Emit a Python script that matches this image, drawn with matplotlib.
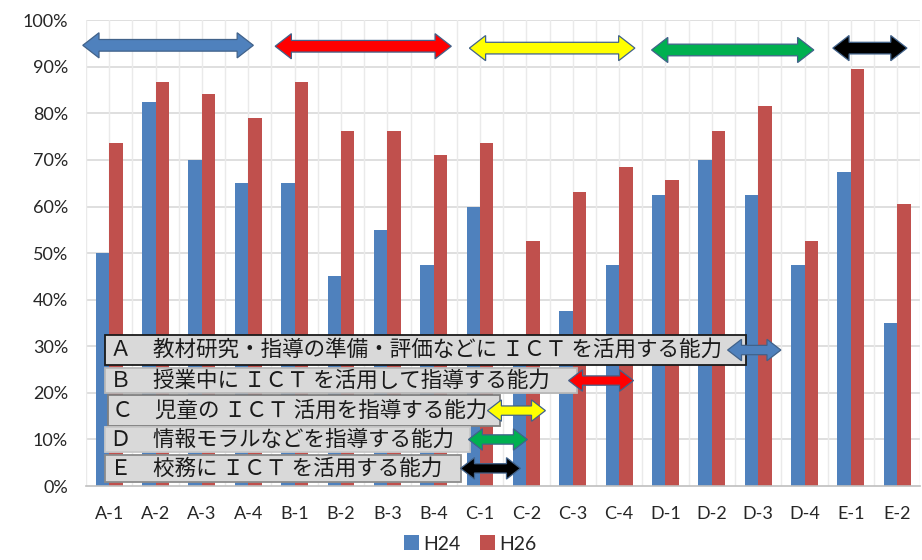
"""
ICT活用指導力: H24 / H26 の比較（A～E 各項目）
"""
import matplotlib.pyplot as plt
import numpy as np
from matplotlib.patches import Polygon, Rectangle
from matplotlib.ticker import FuncFormatter

# values (%)
items = ["A-1", "A-2", "A-3", "A-4", "B-1", "B-2", "B-3", "B-4", "C-1",
         "C-2", "C-3", "C-4", "D-1", "D-2", "D-3", "D-4", "E-1", "E-2"]
h24 = [50.0, 82.5, 70.0, 65.0, 65.0, 45.0, 55.0, 47.5, 60.0,
       27.5, 37.5, 47.5, 62.5, 70.0, 62.5, 47.5, 67.5, 35.0]
h26 = [73.7, 86.8, 84.2, 78.9, 86.8, 76.3, 76.3, 71.1, 73.7,
       52.6, 63.2, 68.4, 65.8, 76.3, 81.6, 52.6, 89.5, 60.5]
series_names = ["H24", "H26"]

group_labels = [
    "Ａ　教材研究・指導の準備・評価などに ＩＣＴ を活用する能力",
    "Ｂ　授業中に ＩＣＴ を活用して指導する能力",
    "Ｃ　児童の ＩＣＴ 活用を指導する能力",
    "Ｄ　情報モラルなどを指導する能力",
    "Ｅ　校務に ＩＣＴ を活用する能力",
]

blue = "#4F81BD"
red = "#C0504D"
grid_c = "#D9D9D9"
arrow_cols = ["#4F81BD", "#FF0000", "#FFFF00", "#00B050", "#000000"]

plt.rcParams["font.family"] = ["Lato", "Noto Sans CJK JP", "DejaVu Sans"]

fig = plt.figure(figsize=(9.22, 5.6), dpi=100)
ax = fig.add_axes([0.0933, 0.132, 0.905, 0.832])

x = np.arange(len(items))
w = 0.29
ax.bar(x - w / 2, h24, w, color=blue, label=series_names[0], zorder=2)
ax.bar(x + w / 2, h26, w, color=red, label=series_names[1], zorder=2)

ax.set_xlim(-0.5, len(items) - 0.5)
ax.set_ylim(0, 100)
ax.set_yticks(np.arange(0, 101, 10))
ax.yaxis.set_major_formatter(FuncFormatter(lambda v, p: f"{v:.0f}%"))
ax.set_xticks(x)
ax.set_xticklabels(items)
ax.tick_params(axis="both", length=0, labelsize=13, labelcolor="#262626")
ax.tick_params(axis="y", pad=13)
ax.tick_params(axis="x", pad=14)

# sheet-like grid: horizontal every 10%, vertical every half category
for v in np.arange(10, 101, 10):
    ax.axhline(v, color=grid_c, lw=1.2, zorder=0)
for xv in np.arange(-0.5, len(items), 0.5):
    ax.axvline(xv, color="#EAEAEA", lw=1.0, zorder=0)
for s in ["top", "right", "left"]:
    ax.spines[s].set_visible(False)
ax.spines["bottom"].set_color("#BFBFBF")
ax.spines["bottom"].set_linewidth(1.2)


def double_arrow(x0, x1, y, color, shaft=1.2, head=2.7, hl=0.34):
    pts = [(x0, y), (x0 + hl, y + head), (x0 + hl, y + shaft),
           (x1 - hl, y + shaft), (x1 - hl, y + head), (x1, y),
           (x1 - hl, y - head), (x1 - hl, y - shaft), (x0 + hl, y - shaft),
           (x0 + hl, y - head)]
    ax.add_patch(Polygon(pts, closed=True, facecolor=color,
                         edgecolor="#41628A", lw=0.9, zorder=5,
                         clip_on=False))


# group arrows across the top
top_spans = [(-0.57, 3.11, 94.6), (3.58, 7.38, 94.4), (7.77, 11.34, 94.0),
             (11.70, 15.20, 93.6), (15.61, 17.21, 94.0)]
for (a, b, y), c in zip(top_spans, arrow_cols):
    double_arrow(a, b, y, c, shaft=1.25, head=2.7, hl=0.35)

# label boxes (x0, x1, y0, y1) with their arrows
boxes = [(-0.09, 13.73, 26.0, 32.4), (-0.09, 10.10, 20.0, 25.3),
         (-0.03, 8.44, 12.9, 19.5), (-0.09, 7.79, 7.3, 12.7),
         (-0.09, 7.58, 0.9, 6.7)]
box_edge = ["#1A1A1A", "#B8B8B8", "#7F7F7F", "#C8C8C8", "#8C8C8C"]
side_spans = [(13.34, 14.49), (9.91, 11.31), (8.16, 9.41), (7.75, 9.02),
              (7.58, 8.87)]
for lab, (bx0, bx1, by0, by1), ec, (a, b), c in zip(
        group_labels, boxes, box_edge, side_spans, arrow_cols):
    ax.add_patch(Rectangle((bx0, by0), bx1 - bx0, by1 - by0,
                           facecolor="#D9D9D9", edgecolor=ec, lw=1.3,
                           zorder=4))
    ax.text(bx0 + 0.1, (by0 + by1) / 2, lab, fontsize=15.5, ha="left",
            va="center", family=["Noto Sans CJK JP", "DejaVu Sans"],
            color="#1A1A1A", zorder=4.5)
    double_arrow(a, b, (by0 + by1) / 2, c, shaft=1.0, head=2.3, hl=0.3)

fig.legend(loc="lower center", bbox_to_anchor=(0.51, -0.018), ncol=2,
           frameon=False, fontsize=14, handlelength=0.8, handleheight=0.8,
           handletextpad=0.2, columnspacing=1.0, labelcolor="#262626")

plt.savefig("out.png", dpi=100)
plt.close()
